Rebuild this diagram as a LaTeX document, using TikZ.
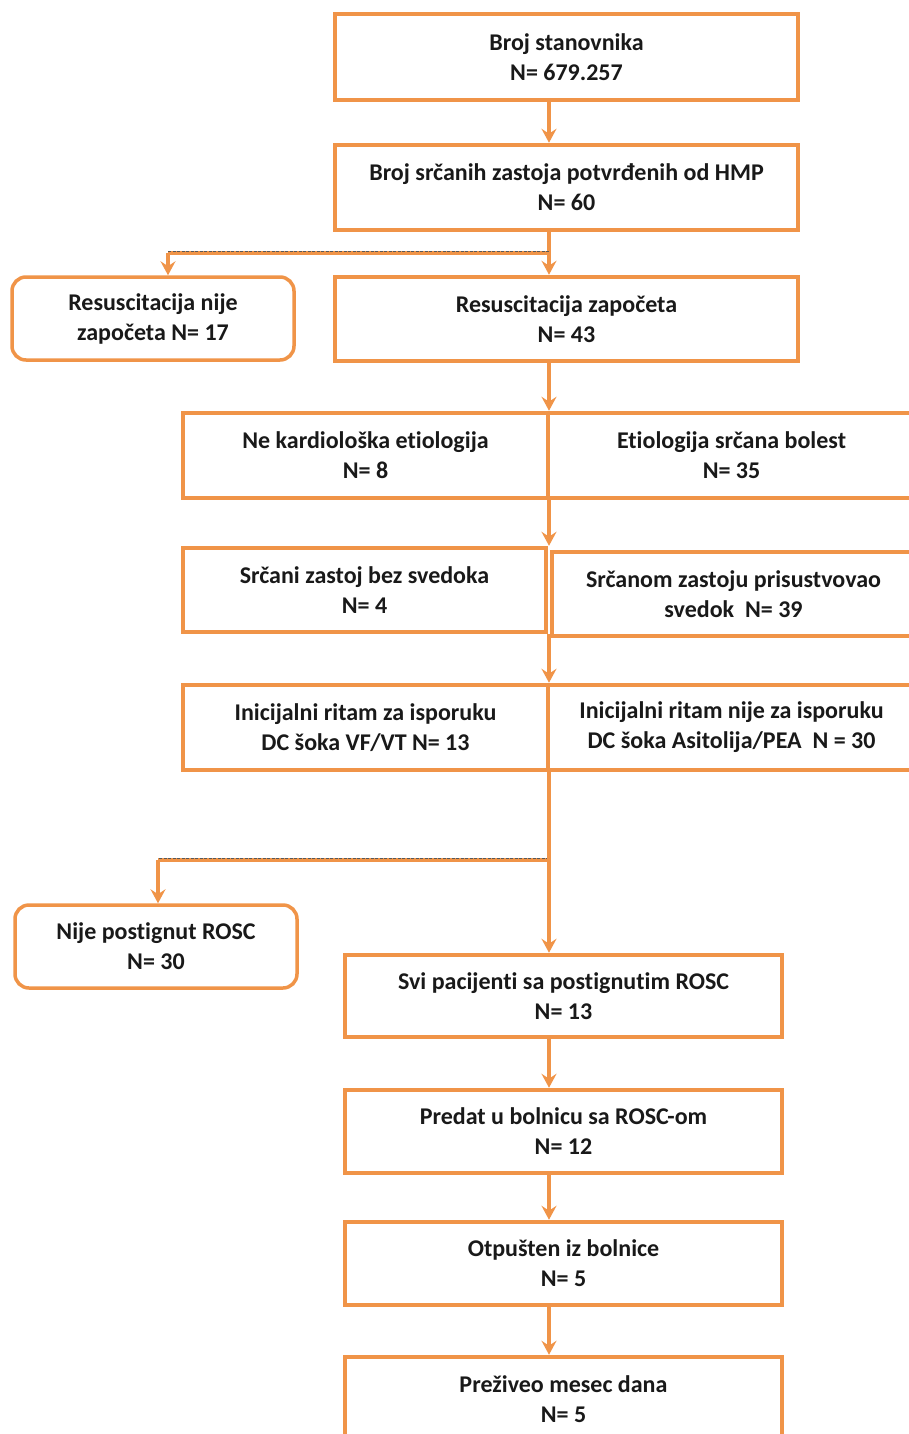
\documentclass[tikz,border=0pt]{standalone}
\usepackage{fontspec}
\setmainfont{Carlito}[Ligatures=NoCommon]
\usetikzlibrary{arrows.meta}
\definecolor{orng}{RGB}{240,148,72}
\definecolor{txt}{RGB}{25,25,25}
\begin{document}
\begin{tikzpicture}[x=1pt,y=-1pt,
  mainbox/.style={draw=orng, line width=4.5pt, rectangle, inner sep=0pt, align=center,
    text=txt, font=\fontsize{24}{30}\selectfont\bfseries, fill=white},
  roundbox/.style={mainbox, line width=3.5pt, rounded corners=14pt},
  lineseg/.style={draw=orng, line width=3.2pt},
  conn/.style={lineseg, -{Stealth[length=14pt,width=15pt,inset=5pt]}},
  hseg/.style={draw=orng, line width=4.5pt},
  hshadow/.style={draw=gray!70!black, line width=1.5pt, dash pattern=on 3pt off 1.5pt}]
\useasboundingbox (0,0) rectangle (908,1434);
\fill[white] (0,0) rectangle (908,1434);
\coordinate (cx) at (549,0);

\node[mainbox, minimum width=463pt, minimum height=86pt] (b1) at (566.5,57) {Broj stanovnika\\N= 679.257};
\node[mainbox, minimum width=463pt, minimum height=85pt] (b2) at (566.5,187.5) {Broj srčanih zastoja potvrđenih od HMP\\N= 60};
\node[roundbox, minimum width=282pt, minimum height=83pt] (nr) at (153,318.5) {Resuscitacija nije\\započeta N= 17};
\node[mainbox, minimum width=463pt, minimum height=84pt] (b3) at (566.5,319) {Resuscitacija započeta\\N= 43};

\node[mainbox, minimum width=365pt, minimum height=85pt] (r1l) at (365.5,455.5) {Ne kardiološka etiologija\\N= 8};
\node[mainbox, minimum width=367pt, minimum height=85pt] (r1r) at (731.5,455.5) {Etiologija srčana bolest\\N= 35};

\node[mainbox, minimum width=363pt, minimum height=84pt] (r2l) at (364.5,590) {Srčani zastoj bez svedoka\\N= 4};
\node[mainbox, minimum width=363pt, minimum height=84pt] (r2r) at (733.5,594) {Srčanom zastoju prisustvovao\\svedok\ \ N= 39};

\node[mainbox, minimum width=365pt, minimum height=85pt] (r3l) at (365.5,727.5) {Inicijalni ritam za isporuku\\DC šoka VF/VT N= 13};
\node[mainbox, minimum width=367pt, minimum height=85pt] (r3r) at (731.5,727.5) {Inicijalni ritam nije za isporuku\\DC šoka Asitolija/PEA\ \ N = 30};

\node[roundbox, minimum width=282pt, minimum height=83pt] (nn) at (156,946.5) {Nije postignut ROSC\\N= 30};
\node[mainbox, minimum width=437pt, minimum height=82pt] (b4) at (563.5,996) {Svi pacijenti sa postignutim ROSC\\N= 13};
\node[mainbox, minimum width=437pt, minimum height=83pt] (b5) at (563.5,1131.5) {Predat u bolnicu sa ROSC-om\\N= 12};
\node[mainbox, minimum width=437pt, minimum height=83pt] (b6) at (563.5,1263.5) {Otpušten iz bolnice\\N= 5};
\node[mainbox, minimum width=437pt, minimum height=85pt] (b7) at (563.5,1399.5) {Preživeo mesec dana\\N= 5};

% connectors
\draw[conn] (b1.south -| cx) -- (b2.north -| cx);

\coordinate (j1) at (549,253);
\coordinate (j1l) at (168,253);
\draw[lineseg] (b2.south -| cx) -- (j1);
\draw[hseg] (j1) -- (j1l);
\draw[hshadow] ([yshift=1.5pt]j1) -- ([yshift=1.5pt]j1l);
\draw[conn] (j1) -- (b3.north -| cx);
\draw[conn] (j1l) -- (nr.north -| j1l);

\draw[conn] (b3.south -| cx) -- (r1l.north -| cx);
\draw[conn] (r1l.south -| cx) -- (r2l.north -| cx);
\draw[conn] (r2l.south -| cx) -- (r3l.north -| cx);

\coordinate (j2) at (549,860);
\coordinate (j2l) at (158,860);
\draw[hseg] (j2) -- (j2l);
\draw[hshadow] ([yshift=1.5pt]j2) -- ([yshift=1.5pt]j2l);
\draw[conn] (r3l.south -| cx) -- (b4.north -| cx);
\draw[conn] (j2l) -- (nn.north -| j2l);

\draw[conn] (b4.south -| cx) -- (b5.north -| cx);
\draw[conn] (b5.south -| cx) -- (b6.north -| cx);
\draw[conn] (b6.south -| cx) -- (b7.north -| cx);
\end{tikzpicture}
\end{document}
